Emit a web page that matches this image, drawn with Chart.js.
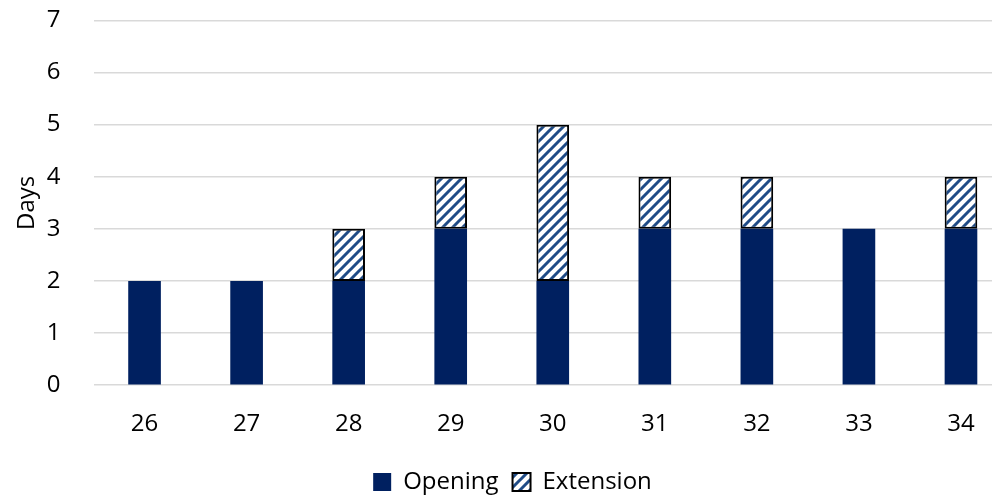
<!DOCTYPE html>
<html>
<head>
<meta charset="utf-8">
<script src="https://cdn.jsdelivr.net/npm/chart.js@4/dist/chart.umd.min.js"></script>
<style>
  body { margin: 0; overflow: hidden; background: #fff; }
  #wrap { width: 1012px; height: 497px; }
</style>
</head>
<body>
<div id="wrap"><canvas id="ch"></canvas></div>
<script>
const weeks = ['26', '27', '28', '29', '30', '31', '32', '33', '34'];
const opening = [2, 2, 2, 3, 2, 3, 3, 3, 3];
const extension = [null, null, 1, 1, 3, 1, 1, null, 1];

// diagonal hatch for the extension bars
let hatch = (() => {
    let c = document.createElement('canvas');
    c.width = 10;
    c.height = 10;
    let g = c.getContext('2d');
    g.fillStyle = '#fff';
    g.fillRect(0, 0, 10, 10);
    g.strokeStyle = '#1f4b86';
    g.lineWidth = 3;
    g.beginPath();
    g.moveTo(-5, 5); g.lineTo(5, -5);
    g.moveTo(0, 10); g.lineTo(10, 0);
    g.moveTo(5, 15); g.lineTo(15, 5);
    g.stroke();
    return g.createPattern(c, 'repeat');
})();

const font = 'Open Sans';

new Chart('ch', {
    type: 'bar',
    data: {
        labels: weeks,
        datasets: [{
            label: 'Opening',
            data: opening,
            backgroundColor: '#002060',
            borderWidth: 0,
            barPercentage: 0.32,
            categoryPercentage: 1
        }, {
            label: 'Extension',
            data: extension,
            backgroundColor: hatch,
            borderColor: '#000',
            borderWidth: 2,
            borderSkipped: false,
            barPercentage: 0.32,
            categoryPercentage: 1
        }]
    },
    options: {
        responsive: true,
        maintainAspectRatio: false,
        animation: false,
        layout: { padding: { left: 13, top: 0, right: 0, bottom: -7 } },
        plugins: {
            tooltip: { enabled: false },
            legend: {
                position: 'bottom',
                labels: {
                    font: { family: font, size: 24, lineHeight: 1 },
                    color: '#000',
                    boxWidth: 18,
                    boxHeight: 18,
                    padding: 14
                }
            }
        },
        scales: {
            x: {
                stacked: true,
                grid: { display: false },
                border: { display: false },
                ticks: { font: { family: font, size: 24 }, color: '#000', padding: 17 }
            },
            y: {
                stacked: true,
                min: 0,
                max: 7,
                ticks: { stepSize: 1, font: { family: font, size: 24 }, color: '#000', padding: 6 },
                grid: { color: '#d9d9d9', lineWidth: 1.5, tickLength: 27, tickColor: 'transparent' },
                border: { display: false },
                title: { display: true, text: 'Days', font: { family: font, size: 24 }, color: '#000', padding: { top: 0, bottom: -1 } }
            }
        }
    }
});
</script>
</body>
</html>
